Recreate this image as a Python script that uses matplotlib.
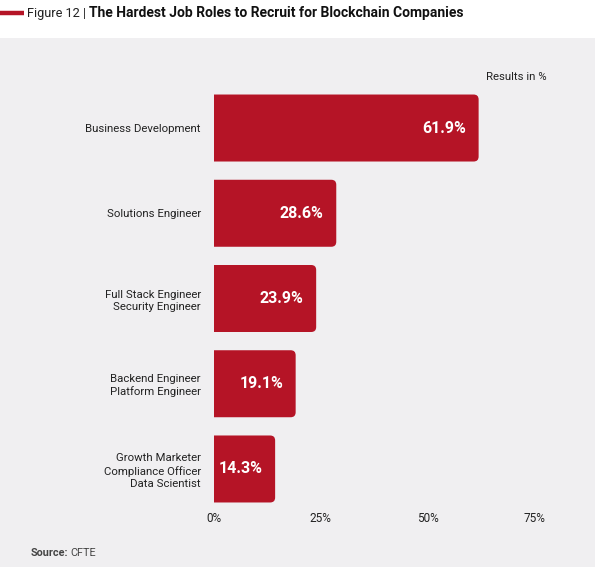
import matplotlib.pyplot as plt
from matplotlib.patches import PathPatch, Rectangle
from matplotlib.path import Path
from matplotlib.lines import Line2D

roles = [
    "Business Development",
    "Solutions Engineer",
    "Full Stack Engineer\nSecurity Engineer",
    "Backend Engineer\nPlatform Engineer",
    "Growth Marketer\nCompliance Officer\nData Scientist",
]
results = [61.9, 28.6, 23.9, 19.1, 14.3]
xticks = [0, 25, 50, 75]
xtick_labels = ["0%", "25%", "50%", "75%"]

RED = "#b51426"
PANEL = "#f0eff1"
W, H = 595, 567

plt.rcParams["font.family"] = ["Roboto", "DejaVu Sans"]


def right_rounded(x0, y0, w, h, rx, ry):
    """bar outline with the two right-hand corners rounded"""
    x1, y1 = x0 + w, y0 + h
    verts = [(x0, y0), (x1 - rx, y0), (x1, y0), (x1, y0 + ry),
             (x1, y1 - ry), (x1, y1), (x1 - rx, y1), (x0, y1), (x0, y0)]
    codes = [Path.MOVETO, Path.LINETO, Path.CURVE3, Path.CURVE3,
             Path.LINETO, Path.CURVE3, Path.CURVE3, Path.LINETO, Path.CLOSEPOLY]
    return Path(verts, codes)


fig = plt.figure(figsize=(W / 100, H / 100), dpi=100, facecolor="white")

# grey panel behind the chart
fig.patches.append(Rectangle((0, 0), 1, 1 - 38 / H, transform=fig.transFigure,
                             facecolor=PANEL, edgecolor="none", zorder=-10))

# title strip
fig.add_artist(Line2D([0, 24 / W], [1 - 13 / H] * 2, transform=fig.transFigure,
                      color=RED, lw=3.2, solid_capstyle="butt"))
fig_lbl = fig.text(27 / W, 1 - 13.5 / H, "Figure 12 |", fontsize=9.2, color="#222222",
                   va="center", ha="left")
fig.canvas.draw()
t_start = fig_lbl.get_window_extent().x1 + 3
fig.text(t_start / W, 1 - 13.5 / H, "The Hardest Job Roles to Recruit for Blockchain Companies",
         fontsize=10, fontweight="bold", color="#111111", va="center", ha="left")

ax = fig.add_axes([214 / W, 1 - 511.6 / H, 342 / W, 426.2 / H])
ax.set_facecolor("none")
ax.set_xlim(0, 80)
ax.set_ylim(len(roles) - 0.5, -0.5)

ypos = list(range(len(roles)))
bars = ax.barh(ypos, results, height=0.786, color=RED)

fig.canvas.draw()
px_x = ax.transData.transform((1, 0))[0] - ax.transData.transform((0, 0))[0]
px_y = abs(ax.transData.transform((0, 1))[1] - ax.transData.transform((0, 0))[1])
r_px = 5
for rect in bars:
    x0, y0, w, h = rect.get_x(), rect.get_y(), rect.get_width(), rect.get_height()
    rect.set_visible(False)
    ax.add_patch(PathPatch(right_rounded(x0, y0, w, h, r_px / px_x, r_px / px_y),
                           facecolor=RED, edgecolor="none"))
    ax.annotate(f"{w:.1f}%", (x0 + w, y0 + h / 2), xytext=(-9, 0),
                textcoords="offset points", ha="right", va="center",
                color="white", fontsize=11.5, fontweight="bold")

ax.set_yticks(ypos)
ax.set_yticklabels(roles, fontsize=8.2, color="#222222", linespacing=1.25)
ax.set_xticks(xticks)
ax.set_xticklabels(xtick_labels, fontsize=8.5, color="#222222")
ax.tick_params(axis="y", length=0, pad=9.4)
ax.tick_params(axis="x", length=0, pad=0.5)
for s in ax.spines.values():
    s.set_visible(False)

fig.text(547 / W, 1 - 77 / H, "Results in %", fontsize=8.2, color="#222222",
         ha="right", va="center")
src = fig.text(31 / W, 1 - 553 / H, "Source:", fontsize=7.8, fontweight="bold",
               color="#444444", ha="left", va="center")
fig.canvas.draw()
src_end = src.get_window_extent().x1
fig.text((src_end + 2) / W, 1 - 553 / H, "CFTE", fontsize=7.8, color="#444444",
         ha="left", va="center")

fig.savefig("out.png", dpi=100, facecolor="white")
